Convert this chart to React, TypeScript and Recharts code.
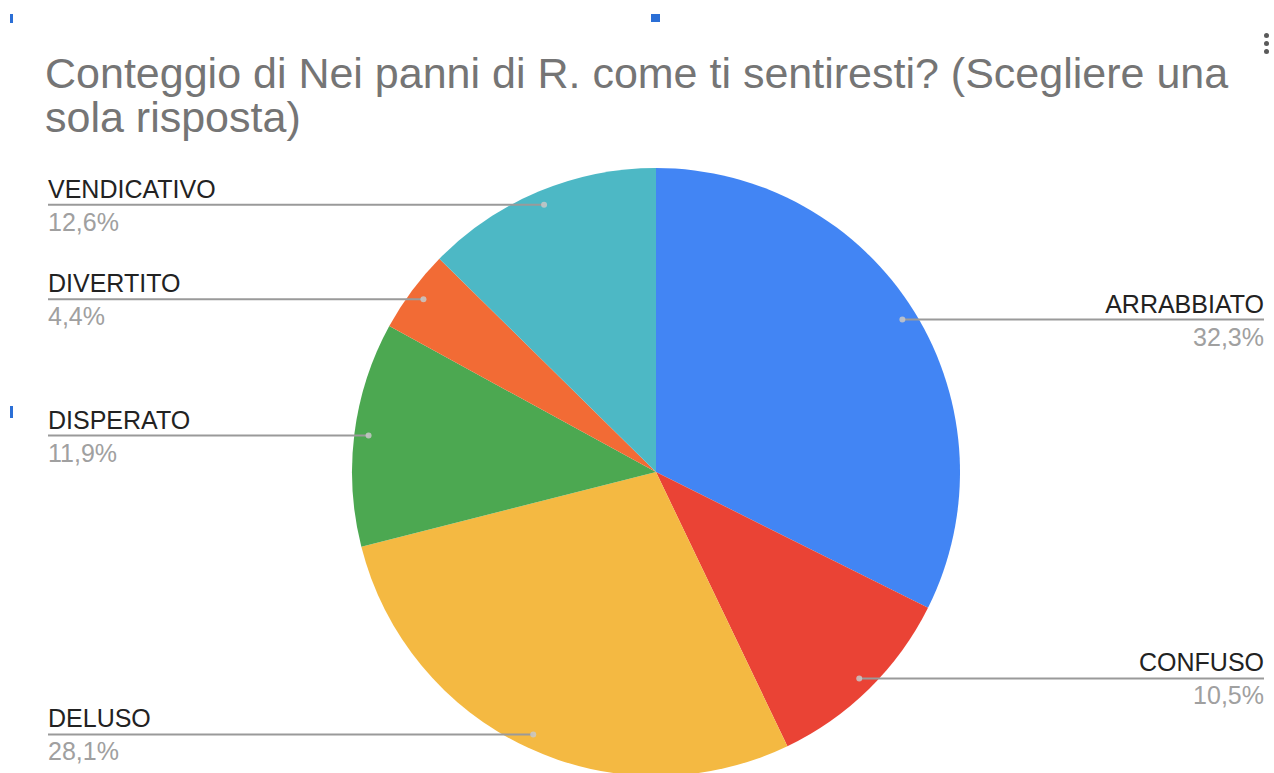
import React from 'react';
import { PieChart, Pie, Cell } from 'recharts';

const categories = ['ARRABBIATO', 'CONFUSO', 'DELUSO', 'DISPERATO', 'DIVERTITO', 'VENDICATIVO'];
const percentages = [32.3, 10.5, 28.1, 11.9, 4.4, 12.6];
const colors = ['#4285F4', '#EA4335', '#F4B942', '#4CA851', '#F26B35', '#4DB8C5'];

const titleLines = ['Conteggio di Nei panni di R. come ti sentiresti? (Scegliere una', 'sola risposta)'];

const data = categories.map((name, i) => ({ name, value: percentages[i] }));

const RAD = Math.PI / 180;
const FONT = '"Liberation Sans", Arial, sans-serif';
const LEFT_X = 48;
const RIGHT_X = 1264;

const renderLabel = (props: any) => {
  const { cx, cy, midAngle, outerRadius, name, value } = props;
  const r = outerRadius * 0.953;
  const x = cx + r * Math.cos(-midAngle * RAD);
  const y = cy + r * Math.sin(-midAngle * RAD);
  const right = x > cx;
  const tx = right ? RIGHT_X : LEFT_X;
  const anchor = right ? 'end' : 'start';
  const pct = `${Number(value).toFixed(1).replace('.', ',')}%`;
  return (
    <g>
      <line x1={tx} y1={y} x2={x} y2={y} stroke="#9a9a9a" strokeWidth={2} />
      <circle cx={x} cy={y} r={3} fill="#c8c8c8" fillOpacity={0.85} />
      <text x={tx} y={y - 7} textAnchor={anchor} fontFamily={FONT} fontSize={25} fill="#222222">
        {name}
      </text>
      <text x={tx} y={y + 26} textAnchor={anchor} fontFamily={FONT} fontSize={25} fill="#a0a0a0">
        {pct}
      </text>
    </g>
  );
};

const dotStyle = (top: number): React.CSSProperties => ({
  position: 'absolute',
  left: 1264,
  top,
  width: 5,
  height: 5,
  borderRadius: '50%',
  background: '#5a5a5a',
});

export default function App() {
  return (
    <div style={{ position: 'absolute', left: 0, top: 0, width: 1274, height: 773, background: '#ffffff', overflow: 'hidden' }}>
      <div style={{ position: 'absolute', left: 10, top: 14, width: 3, height: 9, background: '#2b6fd6' }} />
      <div style={{ position: 'absolute', left: 651, top: 14, width: 9, height: 8, background: '#2b6fd6' }} />
      <div style={{ position: 'absolute', left: 10, top: 406, width: 3, height: 12, background: '#2b6fd6' }} />
      <div style={dotStyle(33)} />
      <div style={dotStyle(41)} />
      <div style={dotStyle(49)} />
      <div
        style={{
          position: 'absolute',
          left: 45,
          top: 51,
          fontFamily: FONT,
          fontSize: 43,
          lineHeight: '44px',
          color: '#757575',
          whiteSpace: 'nowrap',
        }}
      >
        {titleLines.map((t, i) => (
          <div key={i}>{t}</div>
        ))}
      </div>
      <div style={{ position: 'absolute', left: 0, top: 0 }}>
        <PieChart width={1274} height={773} margin={{ top: 0, right: 0, bottom: 0, left: 0 }}>
          <Pie
            data={data}
            dataKey="value"
            nameKey="name"
            cx={656}
            cy={472}
            outerRadius={304}
            startAngle={90}
            endAngle={-270}
            stroke="none"
            label={renderLabel}
            labelLine={false}
            isAnimationActive={false}
          >
            {data.map((d, i) => (
              <Cell key={d.name} fill={colors[i]} />
            ))}
          </Pie>
        </PieChart>
      </div>
    </div>
  );
}
